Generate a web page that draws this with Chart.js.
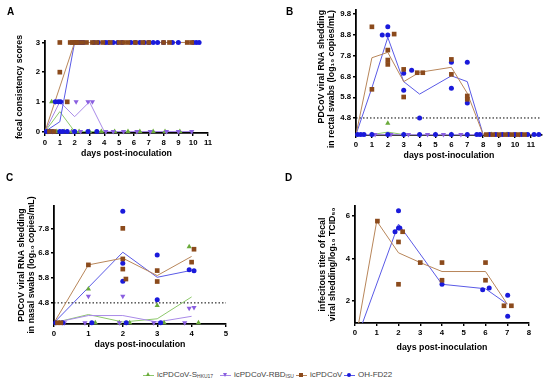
<!DOCTYPE html>
<html>
<head>
<meta charset="utf-8">
<script src="https://cdn.jsdelivr.net/npm/chart.js@4"></script>
<style>
  body { margin: 0; background: #fff; font-family: "Liberation Sans", Arial, sans-serif; }
  #wrap { position: relative; width: 550px; height: 389px; overflow: hidden; }
  canvas { position: absolute; }
  .tag { position: absolute; font-weight: bold; font-size: 10px; color: #000; }
  .lg { position: absolute; top: 369px; height: 12px; font-size: 8px; color: #444; }
  .ln { position: absolute; left: 0; top: 6px; width: 11px; height: 1px; }
  .mk { position: absolute; left: 3px; top: 4px; width: 4px; height: 4px; }
  .tri { width: 0; height: 0; background: none; border-left: 2.5px solid transparent; border-right: 2.5px solid transparent; left: 3px; }
  .tx { position: absolute; left: 14px; top: 1px; white-space: nowrap; }
  .tx sub { font-size: 5px; vertical-align: -1px; }
</style>
</head>
<body>
<div id="wrap">
  <canvas id="cA" width="275" height="180" style="left:0;top:0"></canvas>
  <canvas id="cB" width="275" height="180" style="left:275px;top:0"></canvas>
  <canvas id="cC" width="275" height="175" style="left:0;top:180px"></canvas>
  <canvas id="cD" width="275" height="175" style="left:275px;top:180px"></canvas>
  <div class="tag" style="left:7px;top:6px">A</div>
  <div class="tag" style="left:286px;top:6px">B</div>
  <div class="tag" style="left:6px;top:172px">C</div>
  <div class="tag" style="left:285px;top:172px">D</div>

  <div class="lg" style="left:143px"><span class="ln" style="background:#8dc86b"></span><span class="mk tri" style="border-bottom:4px solid #6aaa3a;top:3px"></span><span class="tx">icPDCoV-S<sub>HKU17</sub></span></div>
  <div class="lg" style="left:220px"><span class="ln" style="background:#a98ae8"></span><span class="mk tri" style="border-top:4px solid #8a5fe0;top:4px"></span><span class="tx">icPDCoV-RBD<sub>ISU</sub></span></div>
  <div class="lg" style="left:296px"><span class="ln" style="background:#b8865a"></span><span class="mk" style="background:#8b4a1c"></span><span class="tx">icPDCoV</span></div>
  <div class="lg" style="left:344px"><span class="ln" style="background:#5a5ae6"></span><span class="mk" style="background:#1a1adb;border-radius:50%"></span><span class="tx">OH-FD22</span></div>
</div>
<script>
// ---- Panel A: fecal consistency scores ----
const aLineDays = [0, 1, 2, 3, 4, 5, 6, 7, 8, 9, 10];
const aLineS   = [0, 0.67, 0, 0, 0, 0, 0, 0, 0, 0, 0];
const aLineRBD = [0, 1, 0.5, 1, 0, 0, 0, 0, 0, 0, 0];
const aLineIc  = [0, 1.5, 3, 3, 3, 3, 3, 3, 3, 3, 3];
const aLineOH  = [0, 0.33, 3, 3, 3, 3, 3, 3, 3, 3, 3];
const aIcX = [1, 1, 1.5, 1.7, 1.85, 2, 2.1, 2.2, 2.5, 2.8, 3.2, 3.5, 3.9, 4.4, 5.0, 5.3, 5.6, 6.1, 6.6, 7.0, 8.0, 8.4, 9.6, 9.9, 0.3, 0.6];
const aIcY = [3, 2, 1, 3, 3, 3, 3, 3, 3, 3, 3, 3, 3, 3, 3, 3, 3, 3, 3, 3, 3, 3, 3, 3, 0, 0];
const aOhX = [2.0, 2.15, 2.3, 2.45, 2.6, 3.3, 3.6, 4.1, 4.3, 4.6, 4.9, 5.2, 5.8, 6.1, 6.4, 6.7, 7.0, 7.3, 7.6, 8.0, 8.6, 9.0, 10.0, 10.2, 10.4, 0.7, 0.9, 1.05, 0.1, 0.3, 0.5, 1.0, 1.2, 1.5, 2.0, 2.9, 3.5];
const aOhY = [3, 3, 3, 3, 3, 3, 3, 3, 3, 3, 3, 3, 3, 3, 3, 3, 3, 3, 3, 3, 3, 3, 3, 3, 3, 1, 1, 1, 0, 0, 0, 0, 0, 0, 0, 0, 0];
const aRbdX = [0.7, 0.9, 1.1, 2.1, 2.9, 3.2, 0.2, 0.5, 1.9, 2.4, 4.1, 4.6, 5.3, 6.2, 7.1, 8.2, 9.0, 9.9];
const aRbdY = [1, 1, 1, 1, 1, 1, 0, 0, 0, 0, 0, 0, 0, 0, 0, 0, 0, 0];
const aSX = [0.45, 0.2, 0.8, 1.3, 1.8, 2.3, 3.0, 3.8, 4.7, 5.6, 6.4, 7.3, 8.1, 9.1];
const aSY = [1, 0, 0, 0, 0, 0, 0, 0, 0, 0, 0, 0, 0, 0];
const aTicksX = [0, 1, 2, 3, 4, 5, 6, 7, 8, 9, 10, 11];
const aTicksY = [0, 1, 2, 3];

// ---- Panel B: rectal swabs ----
const bLineDays = [0, 1, 2, 3, 4, 6, 7, 8, 11.6];
const bLineIc  = [4.0, 7.7, 7.96, 6.55, 7.0, 7.24, 5.99, 4.0, 4.0];
const bLineOH  = [4.0, 6.25, 8.68, 6.55, 5.95, 6.83, 6.55, 4.0, 4.0];
const bLineS   = [4.0, 4.0, 4.12, 4.0, 4.0, 4.0, 4.0, 4.0, 4.0];
const bLineRBD = [4.0, 4.0, 4.0, 4.0, 4.0, 4.0, 4.0, 4.0, 4.0];
const bIcX = [1, 1, 2.4, 2, 2, 2, 3, 3, 3.85, 4.2, 6, 6, 7, 7, 8.2, 8.6, 9.0, 9.4, 9.8, 10.2, 10.6];
const bIcY = [9.19, 6.18, 8.84, 8.07, 7.59, 7.38, 7.14, 5.81, 6.98, 6.98, 7.62, 6.9, 5.86, 5.7, 4, 4, 4, 4, 4, 4, 4];
const bOhX = [1.65, 2, 2, 3, 3, 3.5, 4, 6, 6, 7, 7, 0.1, 0.3, 0.5, 1, 2, 3, 4, 5, 6, 7, 7.6, 7.8, 8.4, 8.8, 9.2, 9.6, 10.0, 10.4, 10.8, 11.2, 11.5];
const bOhY = [8.8, 9.19, 8.8, 6.95, 6.13, 7.1, 4.8, 7.48, 6.23, 7.48, 5.52, 4, 4, 4, 4, 4, 4, 4, 4, 4, 4, 4, 4, 4, 4, 4, 4, 4, 4, 4, 4, 4];
const bSX = [2, 1, 3, 5, 6, 8.5, 9.5];
const bSY = [4.55, 4, 4, 4, 4, 4, 4];
const bRbdX = [1.2, 2.2, 3.3, 4.5, 5.5, 6.6, 9.1, 10.3];
const bRbdY = [4, 4, 4, 4, 4, 4, 4, 4];
const bLodX = [0, 11.6];
const bLodY = [4.8, 4.8];
const bTicksX = [0, 1, 2, 3, 4, 5, 6, 7, 8, 9, 10, 11];
const bTicksY = [4.8, 5.8, 6.8, 7.8, 8.8, 9.8];

// ---- Panel C: nasal swabs ----
const cLineDays = [0, 1, 2, 3, 4];
const cLineS   = [4.0, 4.33, 4.03, 4.16, 5.04];
const cLineRBD = [4.0, 4.29, 4.29, 4.03, 4.26];
const cLineIc  = [4.0, 6.33, 6.6, 5.9, 6.67];
const cLineOH  = [4.0, 5.42, 6.84, 5.83, 6.11];
const cIcX = [1, 2, 2, 2, 2.09, 3, 3, 4.07, 4, 0.1, 0.2];
const cIcY = [6.33, 7.8, 6.57, 6.16, 5.76, 6.1, 5.66, 6.96, 6.44, 4, 4];
const cOhX = [2, 2, 2, 3, 3, 3.93, 4.07, 0.05, 0.25, 1.1, 2.1, 3.1];
const cOhY = [8.49, 6.4, 5.67, 6.73, 4.93, 6.13, 6.09, 4, 4, 4, 4, 4];
const cSX = [1, 3, 3.93, 0.15, 1.2, 1.9, 2.2, 3.2, 4.2];
const cSY = [5.36, 4.69, 7.06, 4, 4, 4, 4, 4, 4];
const cRbdX = [1, 2, 3.93, 4.07, 0.3, 0.9, 1.9, 2.9, 3.8];
const cRbdY = [5.07, 5.07, 4.58, 4.61, 4, 4, 4, 4, 4];
const cLodX = [0, 5];
const cLodY = [4.8, 4.8];
const cTicksX = [0, 1, 2, 3, 4, 5];
const cTicksY = [4.8, 5.8, 6.8, 7.8];

// ---- Panel D: infectious titer ----
const dIcDays = [0, 1, 2, 3, 4, 6, 7];
const dLineIc = [0, 5.76, 4.27, 3.81, 3.39, 3.39, 1.86];
const dOhDays = [0, 2, 4, 6, 7];
const dLineOH = [0, 5.62, 2.79, 2.58, 1.86];
const dIcX = [1.03, 2, 2, 2.19, 3, 4, 4, 6, 6, 6.85, 7.19];
const dIcY = [5.76, 4.78, 2.79, 5.26, 3.81, 3.81, 2.98, 3.81, 2.98, 1.78, 1.78];
const dOhX = [2, 1.84, 2, 2.06, 4, 5.87, 6.17, 7.02, 7.02];
const dOhY = [6.25, 5.26, 5.44, 5.44, 2.79, 2.53, 2.62, 2.28, 1.29];
const dTicksX = [0, 1, 2, 3, 4, 5, 6, 7, 8];
const dTicksY = [2, 4, 6];

const FONT = "'Liberation Sans', Arial, sans-serif";
const col = {
  S:   { line: "#8dc86b", pt: "#6aaa3a" },
  RBD: { line: "#a98ae8", pt: "#8a5fe0" },
  Ic:  { line: "#b8865a", pt: "#8b4a1c" },
  OH:  { line: "#5a5ae6", pt: "#1a1adb" },
};

function zip(xs, ys) {
  return xs.map((x, i) => ({ x: x, y: ys[i] }));
}

function lineSet(xs, ys, c) {
  return { data: zip(xs, ys), showLine: true, borderColor: c, borderWidth: 1, pointRadius: 0, order: 2 };
}

function dotSet(xs, ys, c, style) {
  const s = { data: zip(xs, ys), showLine: false, backgroundColor: c, borderColor: c, borderWidth: 0, pointRadius: 2.5, clip: false, order: 1 };
  if (style == "rect") { s.pointStyle = "rect"; s.pointRadius = 3.3; }
  if (style == "up") { s.pointStyle = "triangle"; s.pointRadius = 3; }
  if (style == "down") { s.pointStyle = "triangle"; s.pointRotation = 180; s.pointRadius = 3; }
  return s;
}

function lodSet(xs, ys) {
  return { data: zip(xs, ys), showLine: true, borderColor: "#000", borderWidth: 1, borderDash: [1.5, 2], pointRadius: 0, order: 3 };
}

function axis(min, max, ticks, size, title, tpad, fmt, align) {
  return {
    type: "linear", min: min, max: max,
    afterBuildTicks: s => { s.ticks = ticks.map(v => ({ value: v })); },
    afterFit: s => { if (s.isHorizontal()) s.height = size; else s.width = size; },
    ticks: { color: "#000", autoSkip: false, maxRotation: 0, padding: 2,
             font: { family: FONT, size: 7.8, weight: "bold" },
             callback: fmt || (v => v) },
    grid: { display: true, drawOnChartArea: false, drawTicks: true, tickLength: 3, color: "#000", lineWidth: 1.4 },
    border: { display: true, color: "#000", width: 1.8 },
    title: { display: true, text: title, color: "#000", align: align || "center",
             font: { family: FONT, size: 8.8, weight: "bold", lineHeight: 1.2 }, padding: tpad },
  };
}

function panel(id, datasets, pad, x, y) {
  new Chart(document.getElementById(id), {
    type: "scatter",
    data: { datasets: datasets },
    options: {
      responsive: false, animation: false,
      layout: { padding: pad },
      plugins: { legend: { display: false }, tooltip: { enabled: false } },
      scales: { x: x, y: y },
    },
  });
}

const one = v => v.toFixed(1);
const xTitle = "days post-inoculation";

panel("cA", [
  dotSet(aIcX, aIcY, col.Ic.pt, "rect"),
  dotSet(aOhX, aOhY, col.OH.pt, "circle"),
  dotSet(aRbdX, aRbdY, col.RBD.pt, "down"),
  dotSet(aSX, aSY, col.S.pt, "up"),
  lineSet(aLineDays, aLineIc, col.Ic.line),
  lineSet(aLineDays, aLineOH, col.OH.line),
  lineSet(aLineDays, aLineRBD, col.RBD.line),
  lineSet(aLineDays, aLineS, col.S.line),
], { top: 41, right: 67, left: 0, bottom: 0 },
  axis(0, 11, aTicksX, 47, xTitle, { top: 0, bottom: 21 }),
  axis(-0.05, 3.05, aTicksY, 45, "fecal consistency scores", { top: 14, bottom: 0 }));

panel("cB", [
  dotSet(bIcX, bIcY, col.Ic.pt, "rect"),
  dotSet(bOhX, bOhY, col.OH.pt, "circle"),
  dotSet(bRbdX, bRbdY, col.RBD.pt, "down"),
  dotSet(bSX, bSY, col.S.pt, "up"),
  lineSet(bLineDays, bLineIc, col.Ic.line),
  lineSet(bLineDays, bLineOH, col.OH.line),
  lineSet(bLineDays, bLineRBD, col.RBD.line),
  lineSet(bLineDays, bLineS, col.S.line),
  lodSet(bLodX, bLodY),
], { top: 10, right: 8, left: 0, bottom: 0 },
  axis(0, 11.7, bTicksX, 45, xTitle, { top: 0, bottom: 19 }),
  axis(3.98, 10.0, bTicksY, 81, ["PDCoV viral RNA shedding", "in rectal swabs (log\u2081\u2080 copies/mL)"], { top: 41, bottom: 0 }, one, "end"));

panel("cC", [
  dotSet(cIcX, cIcY, col.Ic.pt, "rect"),
  dotSet(cOhX, cOhY, col.OH.pt, "circle"),
  dotSet(cRbdX, cRbdY, col.RBD.pt, "down"),
  dotSet(cSX, cSY, col.S.pt, "up"),
  lineSet(cLineDays, cLineIc, col.Ic.line),
  lineSet(cLineDays, cLineOH, col.OH.line),
  lineSet(cLineDays, cLineRBD, col.RBD.line),
  lineSet(cLineDays, cLineS, col.S.line),
  lodSet(cLodX, cLodY),
], { top: 26, right: 49, left: 0, bottom: 0 },
  axis(0, 5, cTicksX, 31, xTitle, { top: 0, bottom: 5 }),
  axis(3.95, 8.7, cTicksY, 54, ["PDCoV viral RNA shedding", "in nasal swabs (log\u2081\u2080 copies/mL)"], { top: 16, bottom: 0 }, one));

panel("cD", [
  dotSet(dIcX, dIcY, col.Ic.pt, "rect"),
  dotSet(dOhX, dOhY, col.OH.pt, "circle"),
  lineSet(dIcDays, dLineIc, col.Ic.line),
  lineSet(dOhDays, dLineOH, col.OH.line),
], { top: 26, right: 21, left: 0, bottom: 0 },
  axis(0, 8, dTicksX, 32, xTitle, { top: 0, bottom: 2 }),
  axis(0.97, 6.47, dTicksY, 80, ["infecitous titer of fecal", "viral shedding/log\u2081\u2080 TCID\u2085\u2080"], { top: 42, bottom: 0 }));
</script>
</body>
</html>
